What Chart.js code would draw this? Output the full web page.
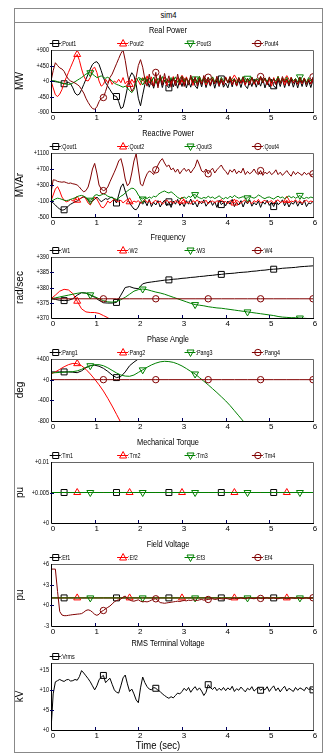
<!DOCTYPE html>
<html>
<head>
<meta charset="utf-8">
<script src="https://cdn.jsdelivr.net/npm/chart.js@4/dist/chart.umd.min.js"></script>
<style>
  body { margin: 0; width: 326px; height: 756px; background: #fff; position: relative; overflow: hidden; }
  #frame { position: absolute; left: 14px; top: 8px; width: 309px; height: 745px; border: 1px solid #888; box-sizing: border-box; }
  #sim { position: absolute; left: 14px; top: 8px; width: 309px; height: 15px; border: 1px solid #888; box-sizing: border-box;
         text-align: center; font: 9px "Liberation Sans", Arial, sans-serif; line-height: 13px; color: #000; }
  #sim span { display: inline-block; transform: scaleX(0.85); }
  canvas { position: absolute; left: 0; }
</style>
</head>
<body>
<div id="frame"></div>
<div id="sim"><span>sim4</span></div>
<script>
const FONT = '"Liberation Sans", Arial, sans-serif';

// temps (s) : grille 0.05 s et 0.1 s, et points des courbes constantes
const t05 = [];
for (let i = 0; i <= 120; i++) t05.push(Math.round(i * 5) / 100);
const t10 = [];
for (let i = 0; i <= 60; i++) t10.push(Math.round(i * 10) / 100);
const tConst = [0, 0.3, 0.6, 0.9, 1.2, 1.5, 1.8, 2.1, 2.4, 2.7, 3.0, 3.3, 3.6, 3.9, 4.2, 4.5, 4.8, 5.1, 5.4, 5.7, 6.0];

const xTicks = [0, 1, 2, 3, 4, 5, 6];

// instants des marqueurs de chaque courbe
const marks1 = [0.3, 1.5, 2.7, 3.9, 5.1];
const marks2 = [0.6, 1.8, 3.0, 4.2, 5.4];
const marks3 = [0.9, 2.1, 3.3, 4.5, 5.7];
const marks4 = [1.2, 2.4, 3.6, 4.8, 6.0];

// Real Power (MW), pas 0.05 s
const pout1 = [
  0,-10,-20,-30,-40,-60,-80,-60,-40,-80,-200,-350,-410,-380,-250,-100,50,200,350,480,
  540,560,480,300,100,-50,-150,-250,-350,-430,-450,-600,-800,-760,-500,-200,100,240,150,-100,
  -500,-720,-400,-100,60,-180,40,-210,20,-150,80,-190,30,-120,-200,60,-170,20,-210,50,
  -160,70,-200,10,-180,60,-140,-220,40,-170,80,-190,20,-150,50,-210,30,-160,60,-180,
  -60,-200,40,-170,70,-150,20,-190,50,-140,-220,30,-160,60,-180,20,-150,70,-200,10,
  -170,50,-140,-210,40,-160,60,-190,30,-150,50,-180,20,-200,40,-160,60,-170,10,-190,
  30];
const pout2 = [
  0,-200,-400,-450,-380,-250,-50,100,250,400,550,700,770,600,350,150,20,0,100,350,
  400,250,0,-150,-100,50,-50,50,-100,0,-50,50,-50,100,-80,0,-100,50,-50,80,
  0,-120,100,-80,150,-60,120,-140,60,-100,140,-50,110,-130,40,-90,130,-60,100,-120,
  50,-110,120,-40,90,-130,60,-80,140,-70,100,-120,30,-90,110,-60,80,-130,50,-100,
  120,-50,90,-110,60,-140,100,-70,40,-120,80,-60,110,-100,50,-80,130,-40,90,-110,
  60,-150,100,-70,140,-50,80,-120,40,-90,110,-60,70,-100,50,-80,90,-50,60,-90,
  40];
const pout3 = [
  0,10,0,-20,-40,-60,-80,-90,-100,-90,-60,-20,20,60,100,150,200,230,240,200,
  150,100,120,150,100,80,110,60,0,-60,-100,-120,-150,-180,-150,-200,-280,-340,-250,-50,
  100,80,0,120,-40,90,-20,110,-60,80,0,130,-30,70,-50,100,10,120,-40,60,
  140,-20,90,-50,110,0,60,-40,130,-10,80,-60,100,20,120,-30,70,-50,110,0,
  90,-40,120,10,60,-60,100,-10,130,-30,80,0,110,-50,70,20,120,-40,90,-20,
  100,-30,60,0,130,-40,80,-10,110,-50,90,10,70,-30,120,-20,80,-40,100,0,
  60];
const pout4 = [
  0,300,530,450,380,350,280,150,50,0,-30,-60,-100,-150,-250,-350,-500,-620,-720,-800,
  -820,-750,-600,-500,-480,-300,-100,100,200,350,500,650,800,900,600,200,-100,-300,-200,100,
  450,620,400,50,-150,200,-100,-150,250,-200,180,-120,220,-60,150,-180,100,-140,200,-80,
  130,-160,90,-120,170,-60,120,-150,80,-100,160,-40,110,-130,60,-90,140,-110,70,-120,
  100,-60,130,-100,50,-140,90,-50,120,-90,60,-120,100,-70,40,-110,130,-60,80,-100,
  120,-50,70,-110,90,-80,130,-40,60,-120,100,-70,50,-90,110,-60,80,-100,40,-80,
  120];

// Reactive Power (MVAr), pas 0.05 s
const qout1 = [
  -100,-150,-200,-260,-300,-330,-320,-280,-220,-180,-150,-120,-100,-60,-20,0,-30,-80,-120,-100,
  -60,0,-60,-120,-80,-40,-60,-20,0,-60,-150,50,250,330,150,-20,-150,-230,-300,-320,
  -250,-120,-180,-100,-220,-60,-240,-130,-200,-90,-250,-150,-80,-220,-120,-260,-100,-180,-60,-210,
  -140,-240,-90,-180,-50,-200,-130,-250,-100,-170,-70,-230,-150,-90,-210,-120,-260,-80,-190,-140,
  -220,-100,-180,-60,-240,-130,-200,-90,-250,-110,-170,-70,-230,-140,-200,-100,-260,-120,-180,-80,
  -210,-130,-240,-90,-190,-150,-70,-220,-110,-250,-140,-180,-90,-230,-120,-200,-80,-240,-150,-170,
  -100];
const qout2 = [
  -100,50,200,260,150,0,-80,-120,-100,-60,-100,-30,-80,-50,-20,20,-50,-150,-200,-100,
  0,-50,-150,-250,-270,-200,-100,-150,-100,-50,-100,-120,-80,-150,-100,-60,-120,-150,-100,-130,
  -90,-160,-110,-60,-140,-90,-170,-120,-80,-150,-100,-180,-130,-70,-140,-110,-160,-90,-130,-170,
  -100,-60,-150,-120,-180,-90,-130,-70,-160,-110,-140,-80,-170,-120,-100,-150,-90,-130,-60,-140,
  -110,-170,-90,-130,-150,-80,-120,-160,-100,-70,-140,-110,-170,-90,-130,-60,-150,-110,-80,-140,
  -120,-90,-160,-100,-70,-140,-110,-130,-80,-150,-100,-120,-70,-140,-90,-160,-110,-80,-130,-100,
  -120];
const qout3 = [
  -100,-80,-50,-30,-40,-60,-80,-90,-80,-60,-40,-20,10,30,40,20,-10,-60,-80,-40,
  40,60,30,50,80,60,20,0,-20,-40,-60,-30,20,50,100,150,190,220,210,150,
  50,-20,-50,-10,-40,0,-30,20,0,60,100,130,150,120,100,130,90,40,-10,-40,
  -30,0,-40,20,-10,50,60,10,-20,-40,-10,-30,20,-20,0,-40,-10,30,-20,-50,
  -10,-40,20,-20,40,0,-30,-10,10,-40,-20,20,-10,-30,0,50,20,-20,-40,-10,
  0,-30,-50,-10,20,-20,0,-40,-10,30,-20,10,-30,0,40,-20,-40,-10,-30,0,
  -20];
const qout4 = [
  100,430,420,390,380,370,380,360,340,350,330,320,300,250,180,130,160,250,450,700,
  840,600,300,200,160,180,250,380,500,620,750,900,960,750,450,280,350,600,900,1080,
  700,320,280,450,580,650,620,560,680,800,900,960,850,760,800,680,720,620,700,580,
  660,720,640,700,600,680,760,930,800,650,620,700,580,660,720,600,680,740,800,700,
  640,560,680,620,700,580,650,600,720,560,640,580,620,700,600,560,660,540,620,580,
  640,560,600,680,560,620,540,600,660,580,520,640,560,620,580,540,620,560,600,540,
  580];

// Frequency (rad/sec), pas 0.1 s
const w1 = [
  376.3,376.1,375.8,375.7,375.8,376.3,377.5,378.3,378.2,377.5,
  376.8,375.8,375.0,374.9,374.9,375.1,377.5,380.0,380.3,379.8,
  379.6,381.2,381.6,381.8,382.0,382.2,382.4,382.5,382.7,382.8,
  383.0,383.1,383.3,383.4,383.6,383.7,383.9,384.0,384.2,384.3,
  384.5,384.6,384.7,384.9,385.0,385.1,385.3,385.4,385.6,385.7,
  385.9,386.0,386.1,386.3,386.4,386.5,386.6,386.8,386.9,387.0,
  387.1];
const w2 = [
  376.3,377.5,378.8,379.4,379.2,378.0,375.5,373.0,372.0,371.8,
  371.8,371.5,370.8,370.1,369.0,367.5];
const w3 = [
  376.3,376.6,376.9,377.2,377.5,377.8,378.1,378.3,378.1,377.6,
  377.0,376.3,375.7,375.3,375.2,375.4,376.0,376.8,377.8,378.8,
  379.3,379.5,379.3,378.9,378.5,378.2,377.8,377.3,376.8,376.3,
  375.8,375.3,374.8,374.4,374.2,374.0,373.7,373.5,373.3,373.2,
  373.0,372.8,372.6,372.4,372.2,372.0,371.8,371.6,371.4,371.2,
  371.0,370.8,370.5,370.3,370.2,370.1,370.1,370.0,369.9,369.8,
  369.7];
const w4 = [376.3,376.3,376.3,376.3,376.3,376.3,376.3,376.3,376.3,376.3,376.3,
            376.3,376.3,376.3,376.3,376.3,376.3,376.3,376.3,376.3,376.3];

// Phase Angle (deg), pas 0.1 s
const pang1 = [
  150,150,150,150,150,145,135,170,230,270,
  280,260,220,160,90,40,60,150,270,340,
  400,470];
const pang2 = [
  110,150,200,250,290,315,310,270,200,110,
  10,-100,-220,-360,-510,-670,-830,-1000];
const pang3 = [
  130,135,140,145,150,155,170,200,240,270,
  290,290,270,230,180,130,90,70,65,90,
  140,190,240,285,320,345,355,350,335,305,
  265,215,160,110,40,-30,-100,-175,-250,-330,
  -410,-500,-600,-700,-800,-900];
const pang4 = [0,0,0,0,0,0,0,0,0,0,0,0,0,0,0,0,0,0,0,0,0];

// Mechanical Torque (pu)
const tm1 = [0.005,0.005,0.005,0.005,0.005,0.005,0.005,0.005,0.005,0.005,0.005,
             0.005,0.005,0.005,0.005,0.005,0.005,0.005,0.005,0.005,0.005];
const tm2 = tm1.slice();
const tm3 = tm1.slice();
const tm4 = [];

// Field Voltage (pu)
const ef1 = [1.08,1.08,1.08,1.08,1.08,1.08,1.08,1.08,1.08,1.08,1.08,
             1.08,1.08,1.08,1.08,1.08,1.08,1.08,1.08,1.08,1.08];
const ef2 = ef1.slice();
const ef3 = ef1.slice();
const ef4 = [
  5.26,5.26,5.26,2.0,-0.9,-1.4,-1.5,-1.5,-1.45,-1.4,-1.35,-1.32,-1.28,-1.25,-1.2,-1.0,-0.75,-0.65,-0.75,-1.0,
  -1.3,-1.45,-1.3,-0.9,-0.75,-0.5,-0.3,-0.1,0.2,0.5,0.7,0.8,0.9,1.2,1.35,1.0,0.8,0.65,0.6,0.7,
  0.8,0.6,0.5,0.55,0.5,0.6,0.75,0.9,0.95,0.7,0.4,0.35,0.3,0.35,0.4,0.45,0.5,0.55,0.6,0.55,
  0.65,0.7,0.65,0.75,0.7,0.8,0.75,0.7,0.8,0.85,0.75,0.8,0.85,0.9,0.95,0.85,0.9,1.0,0.95,0.9,
  1.0,0.95,0.85,1.0,1.05,0.95,1.0,1.1,1.0,0.95,1.05,1.1,1.0,0.95,1.05,1.1,1.0,0.95,1.05,1.1,
  1.0,1.05,1.1,1.0,0.95,1.05,1.1,1.05,0.95,1.0,1.1,1.05,1.0,1.1,1.05,0.95,1.05,1.1,1.0,1.05,
  1.1];

// RMS Terminal Voltage (kV), pas 0.05 s
const vrms = [
  0,9.0,12.0,12.3,12.6,12.3,12.1,12.5,12.6,12.2,12.3,12.6,12.4,13.3,14.8,14.2,13.5,12.8,12.0,11.0,
  10.0,11.0,12.5,13.2,13.6,11.8,12.4,12.9,11.4,10.0,9.4,9.2,11.0,13.0,13.7,11.5,9.6,10.2,9.0,7.5,
  6.8,10.5,13.2,11.8,10.8,10.2,10.0,10.6,10.4,9.9,9.6,9.0,8.6,8.2,7.9,8.3,8.0,8.6,9.2,9.0,
  9.6,10.4,9.8,10.6,9.4,10.2,10.8,9.9,10.5,9.7,8.6,9.4,11.3,10.6,10.1,10.7,9.8,10.4,9.9,10.6,
  9.8,10.5,10.0,10.9,9.6,10.3,9.9,10.7,10.1,9.5,10.4,10.0,10.8,9.7,10.2,10.6,9.9,10.3,10.0,10.8,
  9.6,10.4,11.0,9.8,10.5,9.5,10.3,10.9,9.7,10.4,10.0,9.6,10.6,9.9,10.5,10.2,9.8,10.7,10.1,10.3,
  10.0];

// graduations des axes y
const realTicks = [-900, -450, 0, 450, 900];
const reacTicks = [-500, -100, 300, 700, 1100];
const freqTicks = [370, 375, 380, 385, 390];
const angTicks = [-800, -400, 0, 400];
const torqTicks = [0, 0.005, 0.01];
const fieldTicks = [-3, 0, 3, 6];
const rmsTicks = [0, 5, 10, 15];

const BLACK = '#000000', RED = '#ff0000', GREEN = '#008000', DARK = '#800000';
const styles = [
  { color: BLACK, shape: 'rect' },
  { color: RED, shape: 'tri' },
  { color: GREEN, shape: 'down' },
  { color: DARK, shape: 'circle' }
];
const pointStyleOf = { rect: 'rect', tri: 'triangle', down: 'triangle', circle: 'circle' };
const radiusOf = { rect: 4.2, tri: 4, down: 4, circle: 3.2 };

function pts(times, values) {
  return values.map((v, i) => ({ x: times[i], y: v }));
}

// texte resserré (police étroite simulée)
function narrowText(ctx, text, x, y, align, size, sx) {
  ctx.save();
  ctx.translate(x, y);
  ctx.scale(sx, 1);
  ctx.font = size + 'px ' + FONT;
  ctx.textAlign = align;
  ctx.textBaseline = 'middle';
  ctx.fillText(text, 0, 0);
  ctx.restore();
}

function drawMark(ctx, shape, x, y) {
  ctx.beginPath();
  if (shape === 'rect') ctx.rect(x - 3, y - 3, 6, 6);
  else if (shape === 'tri') { ctx.moveTo(x, y - 4); ctx.lineTo(x + 3.5, y + 2.5); ctx.lineTo(x - 3.5, y + 2.5); ctx.closePath(); }
  else if (shape === 'down') { ctx.moveTo(x, y + 4); ctx.lineTo(x + 3.5, y - 2.5); ctx.lineTo(x - 3.5, y - 2.5); ctx.closePath(); }
  else ctx.arc(x, y, 3.2, 0, Math.PI * 2);
  ctx.stroke();
}

const fmt = v => (v >= 0 ? '+' : '') + v;

// titre, légende, cadre, graduations et libellés y
const deco = {
  id: 'deco',
  afterDraw(chart, args, opts) {
    const { ctx, chartArea: a } = chart;
    const xs = chart.scales.x, ys = chart.scales.y;
    ctx.save();
    ctx.lineWidth = 1;
    ctx.strokeStyle = '#666';
    ctx.beginPath();
    ctx.moveTo(a.left, a.top + 0.5); ctx.lineTo(a.right + 0.5, a.top + 0.5); ctx.lineTo(a.right + 0.5, a.bottom);
    ctx.stroke();
    ctx.strokeStyle = '#000';
    ctx.beginPath();
    ctx.moveTo(a.left + 0.5, a.top); ctx.lineTo(a.left + 0.5, a.bottom + 0.5); ctx.lineTo(a.right + 1, a.bottom + 0.5);
    ctx.stroke();
    ctx.strokeStyle = '#000060';
    ctx.beginPath();
    xTicks.slice(1, -1).forEach(v => {
      const px = Math.round(xs.getPixelForValue(v)) + 0.5;
      ctx.moveTo(px, a.bottom); ctx.lineTo(px, a.bottom - 3);
    });
    opts.yTicks.slice(1, -1).forEach(v => {
      const py = Math.round(ys.getPixelForValue(v)) + 0.5;
      ctx.moveTo(a.left - 1, py); ctx.lineTo(a.left + 3, py);
    });
    ctx.stroke();

    ctx.fillStyle = '#000';
    opts.yTicks.forEach(v => {
      narrowText(ctx, fmt(v), a.left - 2, ys.getPixelForValue(v), 'right', 7.5, 0.74);
    });
    narrowText(ctx, opts.title, 168, a.top - 19, 'center', 9, 0.82);
    if (opts.xTitle) narrowText(ctx, opts.xTitle, 158, a.bottom + 16, 'center', 10, 0.95);

    chart.data.datasets.forEach((ds, i) => {
      const mx = a.left + 4.7 + i * 67.4;
      const ly = a.top - 7 + 0.5;
      ctx.strokeStyle = ds.borderColor;
      ctx.beginPath();
      ctx.moveTo(mx - 6, ly); ctx.lineTo(mx + 5, ly);
      ctx.stroke();
      drawMark(ctx, ds.shape, mx, ly);
      ctx.fillStyle = '#000';
      narrowText(ctx, ':' + ds.label, mx + 5, ly, 'left', 7.5, 0.72);
    });
    ctx.restore();
  }
};

function makePanel(p) {
  const canvas = document.createElement('canvas');
  const xH = p.xTitle ? 26 : 14;
  const h = p.h + 30 + xH;
  canvas.width = 326;
  canvas.height = h;
  canvas.style.top = (p.top - 30) + 'px';
  canvas.style.width = '326px';
  canvas.style.height = h + 'px';
  document.body.appendChild(canvas);

  const datasets = p.series.map((s, i) => {
    const st = styles[i];
    const marks = s.marks;
    return {
      label: s.label,
      shape: st.shape,
      data: pts(s.times, s.values),
      borderColor: st.color,
      borderWidth: 1,
      pointStyle: pointStyleOf[st.shape],
      rotation: st.shape === 'down' ? 180 : 0,
      pointRadius: c => (c.raw && marks.some(m => Math.abs(m - c.raw.x) < 1e-6)) ? radiusOf[st.shape] : 0,
      pointBorderColor: st.color,
      pointBackgroundColor: 'rgba(0,0,0,0)',
      pointBorderWidth: 1,
      tension: 0,
      spanGaps: false,
      order: p.series.length - i
    };
  });

  new Chart(canvas, {
    type: 'line',
    data: { datasets },
    options: {
      responsive: false,
      animation: false,
      events: [],
      layout: { padding: { left: 14, top: 30, right: 13, bottom: 0 } },
      scales: {
        x: {
          type: 'linear', min: 0, max: 6,
          afterBuildTicks: s => { s.ticks = xTicks.map(v => ({ value: v })); },
          afterFit: s => { s.height = xH; },
          grid: { display: false, drawTicks: false },
          border: { display: false },
          ticks: { color: '#000', padding: 1, labelOffset: 2, maxRotation: 0, autoSkip: false, font: { size: 8, family: FONT } }
        },
        y: {
          type: 'linear', min: p.min, max: p.max,
          afterBuildTicks: s => { s.ticks = p.yTicks.map(v => ({ value: v })); },
          afterFit: s => { s.width = 37; },
          grid: { display: false, drawTicks: false },
          border: { display: false },
          ticks: { display: false },
          title: { display: true, text: p.yTitle, color: '#000', padding: 0, font: { size: 10, family: FONT } }
        }
      },
      plugins: {
        legend: { display: false },
        tooltip: { enabled: false },
        deco: { title: p.title, yTicks: p.yTicks, xTitle: p.xTitle }
      }
    },
    plugins: [deco]
  });
}

const panels = [
  { top: 50, h: 62, title: 'Real Power', yTitle: 'MW', min: -900, max: 900, yTicks: realTicks,
    series: [
      { label: 'Pout1', times: t05, values: pout1, marks: marks1 },
      { label: 'Pout2', times: t05, values: pout2, marks: marks2 },
      { label: 'Pout3', times: t05, values: pout3, marks: marks3 },
      { label: 'Pout4', times: t05, values: pout4, marks: marks4 }] },
  { top: 153, h: 64, title: 'Reactive Power', yTitle: 'MVAr', min: -500, max: 1100, yTicks: reacTicks,
    series: [
      { label: 'Qout1', times: t05, values: qout1, marks: marks1 },
      { label: 'Qout2', times: t05, values: qout2, marks: marks2 },
      { label: 'Qout3', times: t05, values: qout3, marks: marks3 },
      { label: 'Qout4', times: t05, values: qout4, marks: marks4 }] },
  { top: 257, h: 61, title: 'Frequency', yTitle: 'rad/sec', min: 370, max: 390, yTicks: freqTicks,
    series: [
      { label: 'W1', times: t10, values: w1, marks: marks1 },
      { label: 'W2', times: t10, values: w2, marks: marks2 },
      { label: 'W3', times: t10, values: w3, marks: marks3 },
      { label: 'W4', times: tConst, values: w4, marks: marks4 }] },
  { top: 359, h: 62, title: 'Phase Angle', yTitle: 'deg', min: -800, max: 400, yTicks: angTicks,
    series: [
      { label: 'Pang1', times: t10, values: pang1, marks: marks1 },
      { label: 'Pang2', times: t10, values: pang2, marks: marks2 },
      { label: 'Pang3', times: t10, values: pang3, marks: marks3 },
      { label: 'Pang4', times: tConst, values: pang4, marks: marks4 }] },
  { top: 462, h: 61, title: 'Mechanical Torque', yTitle: 'pu', min: 0, max: 0.01, yTicks: torqTicks,
    series: [
      { label: 'Tm1', times: tConst, values: tm1, marks: marks1 },
      { label: 'Tm2', times: tConst, values: tm2, marks: marks2 },
      { label: 'Tm3', times: tConst, values: tm3, marks: marks3 },
      { label: 'Tm4', times: tConst, values: tm4, marks: marks4 }] },
  { top: 564, h: 62, title: 'Field Voltage', yTitle: 'pu', min: -3, max: 6, yTicks: fieldTicks,
    series: [
      { label: 'Ef1', times: tConst, values: ef1, marks: marks1 },
      { label: 'Ef2', times: tConst, values: ef2, marks: marks2 },
      { label: 'Ef3', times: tConst, values: ef3, marks: marks3 },
      { label: 'Ef4', times: t05, values: ef4, marks: marks4 }] },
  { top: 663, h: 67, title: 'RMS Terminal Voltage', yTitle: 'kV', min: 0, max: 16.7, yTicks: rmsTicks, xTitle: 'Time (sec)',
    series: [
      { label: 'Vrms', times: t05, values: vrms, marks: marks4 }] }
];

panels.forEach(makePanel);
</script>
</body>
</html>
